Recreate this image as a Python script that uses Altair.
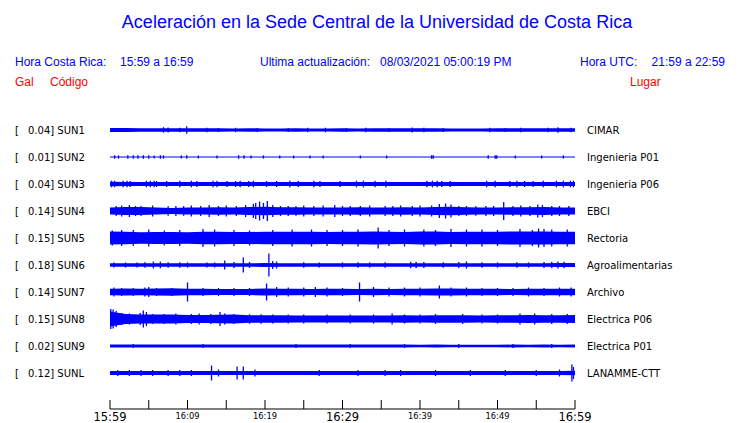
import altair as alt
import pandas as pd

# ---------------- data ----------------
TITLE = "Aceleración en la Sede Central de la Universidad de Costa Rica"
HDR_LOCAL = "Hora Costa Rica:"
HDR_LOCAL_RANGE = "15:59 a 16:59"
HDR_UPDATE = "Ultima actualización:"
HDR_UPDATE_VAL = "08/03/2021 05:00:19 PM"
HDR_UTC = "Hora UTC:"
HDR_UTC_RANGE = "21:59 a 22:59"

codes = ["SUN1", "SUN2", "SUN3", "SUN4", "SUN5", "SUN6", "SUN7", "SUN8", "SUN9", "SUNL"]
gal = ["0.04", "0.01", "0.04", "0.14", "0.15", "0.18", "0.14", "0.15", "0.02", "0.12"]
places = ["CIMAR", "Ingenieria P01", "Ingenieria P06", "EBCI", "Rectoria",
          "Agroalimentarias", "Archivo", "Electrica P06", "Electrica P01", "LANAMME-CTT"]

# minutes after 15:59 at which the envelope was read (every 2 min)
band_t = [0, 2, 4, 6, 8, 10, 12, 14, 16, 18, 20, 22, 24, 26, 28, 30,
          32, 34, 36, 38, 40, 42, 44, 46, 48, 50, 52, 54, 56, 58, 60]

# envelope half-amplitudes (relative units)
band_sun1 = [1.9, 1.9, 1.8, 1.8, 1.8, 1.8, 1.8, 1.7, 1.6, 1.7, 1.6, 1.6, 1.7, 1.6, 1.6, 1.7,
             1.6, 1.7, 1.7, 1.7, 1.7, 1.7, 1.6, 1.4, 1.4, 1.7, 1.7, 1.7, 1.7, 1.8, 1.8]
band_sun2 = [0.6, 0.6, 0.6, 0.6, 0.6, 0.6, 0.6, 0.6, 0.6, 0.6, 0.6, 0.6, 0.6, 0.6, 0.6, 0.6,
             0.6, 0.6, 0.6, 0.6, 0.6, 0.6, 0.6, 0.6, 0.6, 0.6, 0.6, 0.6, 0.6, 0.6, 0.6]
band_sun3 = [2.2, 2.1, 2.0, 2.0, 2.0, 2.0, 2.0, 2.1, 2.0, 2.0, 2.0, 2.0, 2.0, 2.0, 2.0, 2.0,
             2.0, 2.0, 2.0, 2.0, 2.1, 2.1, 2.0, 2.0, 2.0, 2.0, 2.0, 2.0, 2.0, 2.0, 2.1]
band_sun4 = [3.6, 3.9, 3.9, 3.6, 3.0, 3.6, 3.6, 3.8, 3.6, 4.0, 4.3, 3.8, 3.7, 3.6, 3.6, 3.6,
             3.7, 3.6, 3.6, 3.7, 3.6, 4.0, 4.2, 3.7, 3.6, 3.6, 3.7, 3.8, 4.0, 3.6, 3.6]
band_sun5 = [6.5, 6.3, 5.8, 6.0, 6.0, 5.8, 6.3, 6.3, 6.0, 6.0, 6.3, 6.3, 6.3, 6.3, 6.0, 6.3,
             6.3, 6.5, 6.3, 6.0, 6.5, 6.5, 6.0, 6.3, 6.3, 6.3, 6.5, 6.5, 6.5, 6.3, 6.3]
band_sun6 = [1.8, 1.8, 1.8, 1.8, 1.8, 1.8, 1.8, 1.8, 1.8, 1.8, 1.9, 1.8, 1.8, 1.8, 1.8, 1.8,
             1.8, 1.8, 1.8, 1.8, 1.8, 1.8, 1.8, 1.8, 1.8, 1.8, 1.8, 1.8, 1.8, 1.9, 1.9]
band_sun7 = [3.2, 3.5, 3.2, 3.5, 3.8, 3.3, 3.2, 3.0, 3.0, 3.0, 3.5, 3.2, 3.3, 3.0, 3.2, 3.3,
             3.0, 3.2, 3.0, 3.3, 3.3, 3.5, 3.5, 3.2, 3.2, 3.3, 3.0, 3.3, 3.2, 3.2, 3.3]
band_sun8 = [7.5, 5.0, 4.5, 4.5, 4.5, 4.0, 4.0, 4.3, 4.5, 3.8, 3.8, 3.8, 3.6, 3.5, 3.5, 3.6,
             3.5, 3.5, 3.6, 3.8, 3.6, 3.8, 3.7, 3.8, 3.6, 3.8, 3.7, 4.0, 3.8, 3.8, 4.0]
band_sun9 = [1.6, 1.6, 1.6, 1.6, 1.6, 1.6, 1.6, 1.6, 1.6, 1.6, 1.6, 1.6, 1.6, 1.6, 1.6, 1.6,
             1.5, 1.5, 1.4, 1.4, 1.3, 1.4, 1.3, 1.3, 1.3, 1.3, 1.4, 1.3, 1.4, 1.3, 1.4]
band_sunl = [2.0, 2.0, 2.0, 2.0, 2.0, 2.0, 2.0, 2.0, 2.0, 2.0, 2.0, 2.0, 2.0, 2.0, 2.0, 2.0,
             2.0, 2.0, 2.0, 2.0, 2.0, 2.0, 2.0, 2.0, 2.0, 2.0, 2.0, 2.0, 2.0, 2.0, 2.2]

# individual peaks: (minute, half-amplitude)
spikes_sun1 = [(6.9, 2.8), (7.5, 2.5), (9.0, 2.2), (9.9, 3.7), (12.5, 2.2), (14, 2.0), (16.2, 2.2),
               (19, 2.0), (23, 2.0), (25.5, 2.2), (27.8, 2.3), (30.5, 2.0), (33, 2.2), (36, 2.0),
               (39, 2.5), (40.5, 2.2), (43, 2.0), (49, 2.2), (51, 2.0), (53, 2.3), (56.5, 2.2),
               (57.8, 2.8), (59.5, 2.2)]
spikes_sun2 = [(0.6, 1.8), (1.1, 1.6), (2.3, 1.8), (3.0, 1.8), (3.6, 1.8), (4.3, 1.8), (5.0, 1.8),
               (5.7, 1.6), (6.5, 1.8), (6.9, 1.6), (9.2, 1.6), (9.9, 1.8), (11.4, 1.6), (13.8, 1.6),
               (16.6, 1.8), (17.3, 1.8), (18.2, 1.6), (19.8, 1.6), (21.9, 1.6), (23.7, 1.6),
               (25.8, 1.6), (27.5, 1.6), (32.3, 1.6), (35.7, 1.6), (41.5, 1.8), (41.7, 1.8),
               (48.8, 1.8), (49.7, 1.8), (49.9, 1.8), (52.3, 1.6), (55.7, 1.6), (58.5, 1.6)]
spikes_sun3 = [(0.2, 3.3), (0.6, 3.3), (1.7, 3.3), (2.2, 3.3), (2.6, 3.0), (4.7, 3.3), (5.2, 3.3),
               (5.7, 3.3), (6.0, 3.0), (7.3, 3.0), (9.0, 3.3), (10.5, 3.3), (11.2, 3.0), (13.3, 3.3),
               (13.8, 3.3), (15.1, 3.0), (16.2, 3.0), (16.8, 3.3), (17.9, 3.0), (18.5, 3.3),
               (20.2, 3.0), (21.5, 3.0), (23.2, 3.3), (24.3, 3.0), (26.3, 3.3), (27.1, 3.0),
               (29.7, 3.0), (31.8, 3.3), (32.7, 3.3), (34.2, 3.3), (35.6, 3.3), (40.9, 3.3),
               (41.6, 3.3), (42.2, 3.3), (42.8, 3.0), (43.9, 3.0), (48.6, 3.3), (49.7, 3.3),
               (51.6, 3.0), (52.5, 3.3), (53.5, 3.0), (54.6, 3.0), (55.9, 3.3), (57.6, 3.3),
               (58.5, 3.3), (59.4, 3.3), (59.8, 3.3)]
spikes_sun4 = [(0.8, 5.0), (1.5, 5.5), (2.5, 6.0), (3.3, 5.0), (4.0, 5.0), (5.5, 5.5), (7.5, 4.8),
               (8.5, 5.0), (9.5, 4.8), (10.5, 5.5), (11.7, 5.0), (12.8, 6.0), (14, 5.0), (15, 5.5),
               (16.3, 5.0), (17.5, 6.0), (18.5, 7.0), (18.8, 8.0), (19.3, 9.5), (19.8, 8.0),
               (20.3, 10.0), (21, 6.0), (22, 5.0), (23, 5.0), (24, 4.8), (25, 5.5), (26.3, 5.0),
               (27.5, 5.5), (29, 6.0), (30, 5.0), (31, 5.0), (32.3, 5.0), (33.5, 5.5), (35.5, 5.0),
               (36.5, 5.0), (37.5, 5.5), (39, 5.0), (40, 5.5), (41.5, 5.5), (42.5, 7.0), (43.3, 7.5),
               (44, 6.5), (45, 5.0), (46, 5.0), (47.2, 4.8), (48.5, 5.0), (49.5, 5.0), (50.8, 9.0),
               (52, 5.0), (53, 5.5), (54.2, 5.0), (55.2, 6.5), (55.8, 6.0), (57, 5.0), (58, 5.0),
               (59.2, 5.0)]
spikes_sun5 = [(0.3, 7.5), (1.5, 8.0), (3, 8.0), (5, 8.5), (7, 7.5), (9, 8.0), (12, 9.0), (13.5, 8.5),
               (16, 8.0), (18, 7.5), (21, 8.0), (23.5, 8.5), (26, 8.5), (28, 8.0), (30, 8.0),
               (32, 8.5), (34.6, 10.5), (36, 8.0), (38, 8.5), (40.5, 8.5), (42, 8.0), (44, 9.0),
               (46, 8.5), (48, 8.5), (50, 8.0), (52.9, 9.0), (54.5, 8.0), (55.3, 9.5), (56, 9.0),
               (57, 8.5), (59, 8.5)]
spikes_sun6 = [(0.5, 2.5), (2, 2.5), (3.5, 2.5), (4.5, 2.8), (5.6, 3.5), (6.5, 3.3), (7.5, 2.7),
               (9, 2.8), (10, 2.6), (12.5, 2.6), (13.5, 2.5), (14.8, 4.5), (16, 3.0), (17.2, 7.5),
               (18, 3.0), (20.5, 11.5), (21, 4.0), (21.5, 3.5), (25, 2.8), (27, 2.6), (30, 2.6),
               (32, 2.8), (33.5, 2.6), (35.5, 2.8), (38.8, 3.2), (39.5, 3.2), (40.5, 3.0),
               (43, 2.8), (45, 3.0), (46, 3.6), (48, 2.8), (50, 2.6), (52.5, 2.8), (54, 2.6),
               (56, 3.0), (57, 3.2), (57.8, 3.4), (58.6, 3.2)]
spikes_sun7 = [(0.5, 4.5), (1.5, 4.0), (3, 4.0), (4.5, 4.5), (5, 5.0), (6, 4.0), (8, 4.0), (10, 9.5),
               (12, 4.0), (14, 4.0), (16, 4.0), (18, 4.0), (20.2, 8.5), (21.5, 5.0), (23, 4.5),
               (25, 4.5), (26.5, 5.0), (28, 4.5), (30, 4.0), (32.2, 9.5), (34, 5.0), (36, 4.5),
               (38, 4.5), (40, 4.5), (42.5, 6.5), (44, 4.5), (46, 4.5), (48, 4.0), (50, 4.0),
               (52, 4.0), (54, 4.5), (56, 4.0), (58, 4.5), (59.5, 4.5)]
spikes_sun8 = [(0.1, 10.0), (0.4, 9.5), (0.8, 8.0), (1.5, 6.0), (2.5, 5.5), (3.9, 6.0), (4.3, 8.5),
               (4.7, 7.0), (5.5, 5.0), (7, 5.0), (8.5, 5.5), (10.5, 5.0), (11.5, 5.5), (13, 5.0),
               (14.2, 7.0), (14.8, 5.5), (16, 5.0), (18, 4.8), (19.5, 4.8), (21, 4.5), (23, 4.5),
               (25, 4.5), (28, 4.5), (31, 4.5), (34, 4.5), (36.4, 5.5), (38, 4.5), (40, 4.5),
               (42, 5.0), (45.5, 5.0), (48, 4.5), (50, 4.5), (52.9, 5.5), (54.8, 5.5), (57, 5.0),
               (59, 5.0)]
spikes_sun9 = [(3, 2.0), (12, 1.9), (24, 1.9), (31, 1.9), (38, 1.9), (45, 1.9), (52, 1.9), (57, 1.9)]
spikes_sunl = [(1, 3.0), (2.5, 3.0), (4, 3.0), (5.5, 3.0), (7.5, 3.0), (9, 3.0), (10.5, 3.0),
               (13.1, 7.5), (14, 3.5), (16.4, 6.5), (17.2, 6.5), (18.7, 3.5), (27, 3.0), (32, 3.0),
               (35.5, 3.0), (37.5, 3.0), (42, 3.0), (46.5, 3.0), (51, 3.0), (55, 3.0), (58, 3.5),
               (59.6, 8.5), (59.8, 6.0)]

tick_minutes = [0, 5, 10, 15, 20, 25, 30, 35, 40, 45, 50, 55, 60]
label_minutes = [0, 10, 20, 30, 40, 50, 60]
label_text = ["15:59", "16:09", "16:19", "16:29", "16:39", "16:49", "16:59"]
label_major = [True, False, False, True, False, False, True]

# ---------------- layout ----------------
W, H = 724, 415
X0, X1 = 102, 567          # plot x range (px) for minute 0..60
ROW0, ROW_STEP = 122, 27   # first trace centre and spacing (px)
AXIS_Y = 401
BLUE = "#0000ff"
RED = "#ff0000"

bands = [band_sun1, band_sun2, band_sun3, band_sun4, band_sun5,
         band_sun6, band_sun7, band_sun8, band_sun9, band_sunl]
spikes = [spikes_sun1, spikes_sun2, spikes_sun3, spikes_sun4, spikes_sun5,
          spikes_sun6, spikes_sun7, spikes_sun8, spikes_sun9, spikes_sunl]

band_rows = []
spike_rows = []
for i, code in enumerate(codes):
    c = ROW0 + ROW_STEP * i
    for t, a in zip(band_t, bands[i]):
        band_rows.append({"code": code, "t": t, "lo": c - a, "hi": c + a})
    for t, a in spikes[i]:
        spike_rows.append({"code": code, "t": t, "lo": c - a, "hi": c + a})
band_df = pd.DataFrame(band_rows)
spike_df = pd.DataFrame(spike_rows)
station_df = pd.DataFrame({
    "code": codes,
    "c": [ROW0 + ROW_STEP * i + 1 for i in range(len(codes))],
    "left": [f"{g}] {c}" for g, c in zip(gal, codes)],
    "place": places,
})

xs = alt.Scale(domain=[0, 60], range=[X0, X1])
ys = alt.Scale(domain=[0, H], range=[0, H])

band = alt.Chart(band_df).mark_area(color=BLUE, interpolate="linear").encode(
    x=alt.X("t:Q", scale=xs, axis=None),
    y=alt.Y("lo:Q", scale=ys, axis=None),
    y2="hi:Q",
    detail="code:N",
)
spk = alt.Chart(spike_df).mark_rule(color=BLUE, strokeWidth=1.3).encode(
    x=alt.X("t:Q", scale=xs, axis=None),
    y=alt.Y("lo:Q", scale=ys, axis=None),
    y2="hi:Q",
)

font_sans = "Liberation Sans"
font_dv = "DejaVu Sans"

bracket = alt.Chart(station_df).mark_text(align="left", baseline="middle", font=font_dv,
                                          fontSize=10, color="black").encode(
    x=alt.value(7), y=alt.Y("c:Q", scale=ys, axis=None), text=alt.value("["))
left_lab = alt.Chart(station_df).mark_text(align="left", baseline="middle", font=font_dv,
                                           fontSize=10, color="black").encode(
    x=alt.value(20), y=alt.Y("c:Q", scale=ys, axis=None), text="left:N")
right_lab = alt.Chart(station_df).mark_text(align="left", baseline="middle", font=font_dv,
                                            fontSize=10, color="black").encode(
    x=alt.value(579), y=alt.Y("c:Q", scale=ys, axis=None), text="place:N")


def label(txt, x, y, color, size, align="left", font=font_sans):
    return alt.Chart(pd.DataFrame({"s": [txt]})).mark_text(
        align=align, baseline="middle", font=font, fontSize=size, color=color
    ).encode(x=alt.value(x), y=alt.value(y), text="s:N")


headers = [
    label(TITLE, 369, 15, BLUE, 18, align="center"),
    label(HDR_LOCAL, 7, 54, BLUE, 12),
    label(HDR_LOCAL_RANGE, 112, 54, BLUE, 12),
    label(HDR_UPDATE, 252, 54, BLUE, 12),
    label(HDR_UPDATE_VAL, 372, 54, BLUE, 12),
    label(HDR_UTC, 572, 54, BLUE, 12),
    label(HDR_UTC_RANGE, 717, 54, BLUE, 12, align="right"),
    label("Gal", 7, 74, RED, 12),
    label("Código", 42, 74, RED, 12),
    label("Lugar", 622, 74, RED, 12),
]

axis_df = pd.DataFrame({"a": [0], "b": [60]})
axis_line = alt.Chart(axis_df).mark_rule(color="black", strokeWidth=1).encode(
    x=alt.X("a:Q", scale=xs, axis=None), x2="b:Q", y=alt.value(AXIS_Y))
ticks = alt.Chart(pd.DataFrame({"m": tick_minutes})).mark_rule(color="black", strokeWidth=1).encode(
    x=alt.X("m:Q", scale=xs, axis=None), y=alt.value(AXIS_Y - 9), y2=alt.value(AXIS_Y))
lab_df = pd.DataFrame({"m": label_minutes, "s": label_text, "major": label_major})
big_lab = alt.Chart(lab_df).transform_filter("datum.major").mark_text(
    align="center", baseline="alphabetic", font=font_dv, fontSize=11.5, color="black").encode(
    x=alt.X("m:Q", scale=xs, axis=None), y=alt.value(AXIS_Y + 12), text="s:N")
small_lab = alt.Chart(lab_df).transform_filter("!datum.major").mark_text(
    align="center", baseline="alphabetic", font=font_dv, fontSize=8.3, color="black").encode(
    x=alt.X("m:Q", scale=xs, axis=None), y=alt.value(AXIS_Y + 10), text="s:N")

chart = alt.layer(
    band, spk, bracket, left_lab, right_lab, axis_line, ticks, big_lab, small_lab, *headers
).properties(
    width=W, height=H, autosize=alt.AutoSizeParams(type="none"), padding=0,
    background="white"
).configure_view(stroke=None)

chart.save("out.html", embed_options={"renderer": "svg", "actions": False})
